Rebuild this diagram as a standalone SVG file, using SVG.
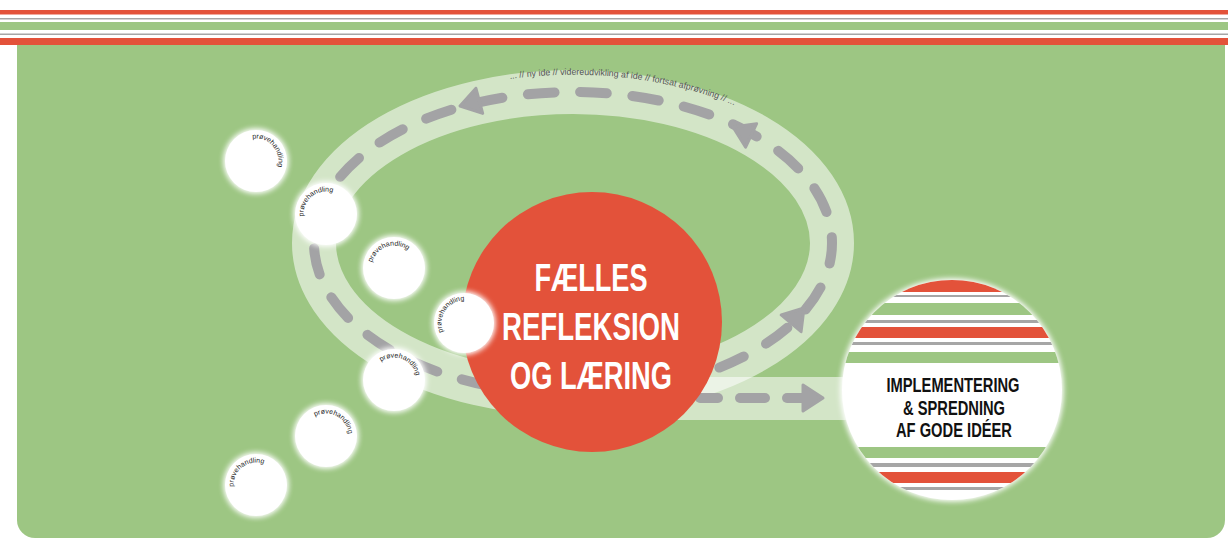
<svg xmlns="http://www.w3.org/2000/svg" width="1228" height="539" viewBox="0 0 1228 539">
<style>
.red{fill:#e3523a}
.grn{fill:#9dc683}
.gry{fill:#a6a6a6}
.wht{fill:#fff}
.track{fill:none;stroke:#fff;stroke-opacity:.55;stroke-width:44}
.htrack{fill:#fff;fill-opacity:.55}
.dash{fill:none;stroke:#a3a3a5;stroke-width:10;stroke-linecap:round}
.ah{fill:#a3a3a5;stroke:#a3a3a5;stroke-width:3;stroke-linejoin:round}
.small{fill:#fff}
.pv{font-family:"Liberation Sans",Arial,sans-serif;font-size:7px;fill:#1e1e1e}
.big{font-family:"Liberation Sans",Arial,sans-serif;font-weight:bold;font-size:39px;fill:#fff;text-anchor:middle}
.impl{font-family:"Liberation Sans",Arial,sans-serif;font-weight:bold;font-size:19.5px;fill:#111;text-anchor:middle}
.top{font-family:"Liberation Sans",Arial,sans-serif;font-size:9px;fill:#555}
</style>
<defs>
<filter id="glow" x="-40%" y="-40%" width="180%" height="180%">
<feGaussianBlur in="SourceGraphic" stdDeviation="3" result="b"/>
<feMerge><feMergeNode in="b"/><feMergeNode in="b"/><feMergeNode in="SourceGraphic"/></feMerge>
</filter>
<path id="parc" d="M0,-22.5 A22.5,22.5 0 1 1 0,22.5 A22.5,22.5 0 1 1 0,-22.5"/>
<path id="toparc" d="M510,79 A281,168 0 0 1 745,110"/>
<path id="ahead" d="M0,0 L-20,-13 L-20,13 Z"/>
<clipPath id="implclip"><circle cx="952" cy="390" r="110"/></clipPath>
</defs>

<!-- top banner -->
<g id="banner">
<rect x="0" y="0" width="1228" height="539" fill="#fff"/>
<rect class="red" x="0" y="10" width="1228" height="4.5"/>
<rect class="gry" x="0" y="18" width="1228" height="1.5"/>
<rect class="grn" x="0" y="22" width="1228" height="8"/>
<rect class="gry" x="0" y="33.5" width="1228" height="1.5"/>
<rect class="red" x="0" y="38" width="1228" height="7"/>
</g>

<!-- panel -->
<path id="panel" class="grn" d="M17,45 H1225 V520 A18,18 0 0 1 1207,538 H35 A18,18 0 0 1 17,520 Z"/>

<!-- connectors -->
<g id="connectors">
<ellipse class="track" cx="573" cy="243" rx="259" ry="151"/>
<rect class="htrack" x="600" y="377" width="255" height="43"/>
<ellipse class="dash" cx="573" cy="243" rx="259" ry="151" pathLength="1325" stroke-dasharray="27 26" stroke-dashoffset="6"/>
<use href="#ahead" class="ah" transform="translate(460,106) rotate(165)"/>
<use href="#ahead" class="ah" transform="translate(733,127) rotate(-155)"/>
<use href="#ahead" class="ah" transform="translate(804,308) rotate(-50)"/>
<line class="dash" x1="700" y1="398" x2="718" y2="398"/>
<line class="dash" x1="740" y1="398" x2="765" y2="398"/>
<line class="dash" x1="787" y1="398" x2="802" y2="398"/>
<use href="#ahead" class="ah" transform="translate(823,398)"/>
<text class="top"><textPath href="#toparc" textLength="228" lengthAdjust="spacingAndGlyphs">... // ny ide // videreudvikling af ide // fortsat afprøvning // ...</textPath></text>
</g>

<!-- central node -->
<g id="center">
<circle class="red" cx="592" cy="322" r="130"/>
<text class="big" x="591" y="291" textLength="113" lengthAdjust="spacingAndGlyphs">FÆLLES</text>
<text class="big" x="591" y="340" textLength="178" lengthAdjust="spacingAndGlyphs">REFLEKSION</text>
<text class="big" x="591" y="389" textLength="162" lengthAdjust="spacingAndGlyphs">OG LÆRING</text>
</g>

<!-- prøvehandling nodes -->
<g id="p1"><circle class="small" cx="256" cy="161" r="31" filter="url(#glow)"/>
<g transform="translate(256,161) rotate(-9)"><text class="pv"><textPath href="#parc">prøvehandling</textPath></text></g></g>
<g id="p2"><circle class="small" cx="326" cy="214" r="31" filter="url(#glow)"/>
<g transform="translate(326,214) rotate(-96)"><text class="pv"><textPath href="#parc">prøvehandling</textPath></text></g></g>
<g id="p3"><circle class="small" cx="394" cy="268" r="31" filter="url(#glow)"/>
<g transform="translate(394,268) rotate(-76)"><text class="pv"><textPath href="#parc">prøvehandling</textPath></text></g></g>
<g id="p4"><circle class="small" cx="464" cy="323" r="30" filter="url(#glow)"/>
<g transform="translate(464,323) rotate(-113)"><text class="pv"><textPath href="#parc">prøvehandling</textPath></text></g></g>
<g id="p5"><circle class="small" cx="394" cy="380" r="31" filter="url(#glow)"/>
<g transform="translate(394,380) rotate(-35)"><text class="pv"><textPath href="#parc">prøvehandling</textPath></text></g></g>
<g id="p6"><circle class="small" cx="326" cy="436" r="31" filter="url(#glow)"/>
<g transform="translate(326,436) rotate(-29)"><text class="pv"><textPath href="#parc">prøvehandling</textPath></text></g></g>
<g id="p7"><circle class="small" cx="256" cy="485" r="31" filter="url(#glow)"/>
<g transform="translate(256,485) rotate(-94)"><text class="pv"><textPath href="#parc">prøvehandling</textPath></text></g></g>

<!-- implementation node -->
<g id="impl">
<circle cx="952" cy="390" r="110" fill="#fff" filter="url(#glow)"/>
<g clip-path="url(#implclip)">
<rect class="red" x="840" y="280" width="225" height="12"/>
<rect class="gry" x="840" y="295" width="225" height="2"/>
<rect class="grn" x="840" y="303" width="225" height="12"/>
<rect class="gry" x="840" y="320" width="225" height="3"/>
<rect class="red" x="840" y="327" width="225" height="11"/>
<rect class="gry" x="840" y="342" width="225" height="3"/>
<rect class="grn" x="840" y="352" width="225" height="11"/>
<rect class="grn" x="840" y="447" width="225" height="11"/>
<rect class="gry" x="840" y="463" width="225" height="4"/>
<rect class="red" x="840" y="472" width="225" height="11"/>
<rect class="gry" x="840" y="487" width="225" height="3"/>
</g>
<text class="impl" x="953" y="392" textLength="133" lengthAdjust="spacingAndGlyphs">IMPLEMENTERING</text>
<text class="impl" x="954" y="415" textLength="102" lengthAdjust="spacingAndGlyphs">&amp; SPREDNING</text>
<text class="impl" x="954" y="437" textLength="116" lengthAdjust="spacingAndGlyphs">AF GODE IDÉER</text>
</g>
</svg>
